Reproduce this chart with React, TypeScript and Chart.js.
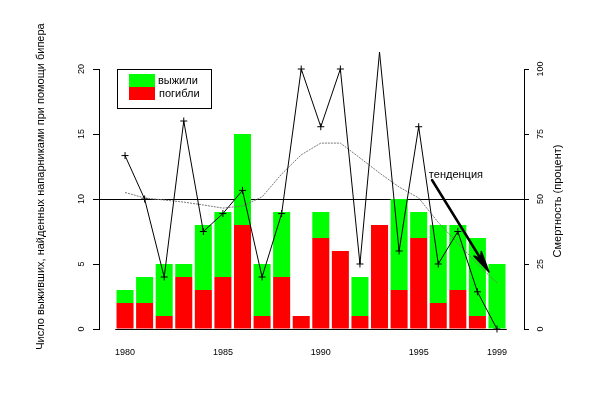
import React, { useEffect, useRef } from "react";
import { Chart, registerables } from "chart.js";

Chart.register(...registerables);

const years = [1980, 1981, 1982, 1983, 1984, 1985, 1986, 1987, 1988, 1989, 1990, 1991, 1992, 1993, 1994, 1995, 1996, 1997, 1998, 1999];
const died = [2, 2, 1, 4, 3, 4, 8, 1, 4, 1, 7, 6, 1, 8, 3, 7, 2, 3, 1, 0];
const survived = [1, 2, 4, 1, 5, 5, 7, 4, 5, 0, 2, 0, 3, 0, 7, 2, 6, 5, 6, 5];
const mortality = [66.7, 50, 20, 80, 37.5, 44.4, 53.3, 20, 44.4, 100, 77.8, 100, 25, 106.5, 30, 77.8, 25, 37.5, 14.3, 0];
const trend = [52.5, 50.4, 49.6, 48.8, 47.7, 46.5, 47.3, 50.8, 59.6, 67, 71.5, 71.5, 65.8, 60, 54.6, 50.4, 41, 33, 25, 17.7];
const xTickLabels = [1980, 1985, 1990, 1995, 1999];
const leftTicks = [0, 5, 10, 15, 20];
const rightTicks = [0, 25, 50, 75, 100];
const refLevel = 50;
const xMin = 1978.67;
const xMax = 2000.38;
const baseFrom = 1979.5;
const baseTo = 1999.5;
const arrowFrom = { x: 1995.68, y: 57.3 };
const arrowTo = { x: 1998.59, y: 21.9 };
const annotationText = "тенденция";
const annotationPos = { x: 1995.52, y: 59.2 };
const leftTitle = "Число выживших, найденных напарниками при помощи бипера";
const rightTitle = "Смертность (процент)";

const FONT = "'Liberation Sans', Arial, sans-serif";

const linesPlugin = {
  id: "reflines",
  beforeDatasetsDraw(chart: any) {
    const ctx = chart.ctx;
    const xs = chart.scales.x;
    const y2 = chart.scales.y2;
    const area = chart.chartArea;
    ctx.save();
    ctx.strokeStyle = "#000";
    ctx.lineWidth = 1;
    const yr = Math.round(y2.getPixelForValue(refLevel)) + 0.5;
    ctx.beginPath();
    ctx.moveTo(area.left, yr);
    ctx.lineTo(area.right, yr);
    ctx.stroke();
    const yb = Math.round(y2.getPixelForValue(0)) + 0.5;
    ctx.beginPath();
    ctx.moveTo(xs.getPixelForValue(baseFrom), yb);
    ctx.lineTo(xs.getPixelForValue(baseTo), yb);
    ctx.stroke();
    ctx.restore();
  },
};

const overlayPlugin = {
  id: "overlay",
  afterDraw(chart: any) {
    const ctx = chart.ctx;
    const area = chart.chartArea;
    const xs = chart.scales.x;
    const y2 = chart.scales.y2;
    ctx.save();
    ctx.fillStyle = "#000";
    ctx.font = `11px ${FONT}`;
    ctx.textAlign = "center";
    ctx.textBaseline = "middle";
    ctx.save();
    ctx.translate(area.left - 58.5, (area.top + area.bottom) / 2 - 12.5);
    ctx.rotate(-Math.PI / 2);
    ctx.fillText(leftTitle, 0, 0);
    ctx.restore();
    ctx.save();
    ctx.translate(area.right + 34, (area.top + area.bottom) / 2 + 2);
    ctx.rotate(-Math.PI / 2);
    ctx.fillText(rightTitle, 0, 0);
    ctx.restore();

    // legend
    const bx = area.left + 18;
    const by = area.top;
    const bw = 94;
    const bh = 39;
    ctx.fillStyle = "#fff";
    ctx.fillRect(bx, by, bw, bh);
    ctx.strokeStyle = "#000";
    ctx.lineWidth = 1;
    ctx.strokeRect(bx + 0.5, by + 0.5, bw, bh);
    const items = [chart.data.datasets[1], chart.data.datasets[0]];
    ctx.font = `11px ${FONT}`;
    ctx.textAlign = "left";
    items.forEach((ds: any, i: number) => {
      const sy = by + 5 + i * 13;
      ctx.fillStyle = ds.backgroundColor;
      ctx.fillRect(bx + 12, sy, 26, 13);
      ctx.fillStyle = "#000";
      ctx.fillText(ds.label, bx + 41 + i, sy + 7);
    });

    // annotation
    ctx.font = `11px ${FONT}`;
    ctx.textAlign = "left";
    ctx.textBaseline = "middle";
    ctx.fillText(annotationText, xs.getPixelForValue(annotationPos.x), y2.getPixelForValue(annotationPos.y));
    const x1 = xs.getPixelForValue(arrowFrom.x);
    const yA = y2.getPixelForValue(arrowFrom.y);
    const x2 = xs.getPixelForValue(arrowTo.x);
    const yB = y2.getPixelForValue(arrowTo.y);
    const ang = Math.atan2(yB - yA, x2 - x1);
    const hl = 22;
    const ha = 0.2;
    ctx.strokeStyle = "#000";
    ctx.fillStyle = "#000";
    ctx.lineWidth = 2.5;
    ctx.lineCap = "round";
    ctx.beginPath();
    ctx.moveTo(x1, yA);
    ctx.lineTo(x2 - (hl - 4) * Math.cos(ang), yB - (hl - 4) * Math.sin(ang));
    ctx.stroke();
    ctx.lineWidth = 1.5;
    ctx.lineJoin = "round";
    ctx.beginPath();
    ctx.moveTo(x2 - hl * Math.cos(ang - ha), yB - hl * Math.sin(ang - ha));
    ctx.lineTo(x2, yB);
    ctx.lineTo(x2 - hl * Math.cos(ang + ha), yB - hl * Math.sin(ang + ha));
    ctx.lineTo(x2 - (hl - 6) * Math.cos(ang), yB - (hl - 6) * Math.sin(ang));
    ctx.closePath();
    ctx.fill();
    ctx.stroke();
    ctx.restore();
  },
};

export default function App() {
  const ref = useRef<HTMLCanvasElement>(null);
  useEffect(() => {
    if (!ref.current) return;
    const chart = new Chart(ref.current, {
      type: "bar",
      data: {
        datasets: [
          {
            type: "bar",
            label: "погибли",
            data: years.map((x, i) => ({ x, y: died[i] })),
            backgroundColor: "#ff0000",
            borderWidth: 0,
            yAxisID: "y",
            barPercentage: 0.87,
            categoryPercentage: 1,
            order: 10,
          },
          {
            type: "bar",
            label: "выжили",
            data: years.map((x, i) => ({ x, y: survived[i] })),
            backgroundColor: "#00ff00",
            borderWidth: 0,
            yAxisID: "y",
            barPercentage: 0.87,
            categoryPercentage: 1,
            order: 10,
          },
          {
            type: "line",
            label: "смертность",
            data: years.map((x, i) => ({ x, y: mortality[i] })),
            borderColor: "#000",
            backgroundColor: "#000",
            borderWidth: 1,
            pointStyle: "cross",
            pointRadius: (c: any) => (c.raw && c.raw.y > 100 ? 0 : 3.5),
            pointBorderWidth: 1,
            pointBorderColor: "#000",
            yAxisID: "y2",
            clip: false,
            tension: 0,
            order: 1,
          },
          {
            type: "line",
            label: "тренд",
            data: years.map((x, i) => ({ x, y: trend[i] })),
            borderColor: "#777",
            borderWidth: 1,
            borderDash: [2, 1],
            pointRadius: 0,
            yAxisID: "y2",
            tension: 0,
            order: 2,
          },
        ],
      },
      options: {
        responsive: false,
        animation: false,
        layout: { padding: { top: 69, left: 0, right: 0, bottom: 0 } },
        plugins: { legend: { display: false }, tooltip: { enabled: false } },
        scales: {
          x: {
            type: "linear",
            min: xMin,
            max: xMax,
            offset: false,
            stacked: true,
            grid: { display: false, drawTicks: false },
            border: { display: false },
            ticks: {
              font: { family: FONT, size: 9 },
              color: "#000",
              padding: 18,
              maxRotation: 0,
              callback: (v: any) => String(v),
            },
            afterBuildTicks: (s: any) => {
              s.ticks = xTickLabels.map((v) => ({ value: v }));
            },
            afterFit: (s: any) => {
              s.height = 66;
            },
          },
          y: {
            type: "linear",
            position: "left",
            min: 0,
            max: 20,
            stacked: true,
            grid: { drawOnChartArea: false, drawTicks: true, tickLength: 6, color: "#000" },
            border: { display: true, color: "#000", width: 1 },
            ticks: {
              font: { family: FONT, size: 9 },
              color: "#000",
              minRotation: 90,
              maxRotation: 90,
              crossAlign: "center",
              padding: 6.5,
            },
            afterBuildTicks: (s: any) => {
              s.ticks = leftTicks.map((v) => ({ value: v }));
            },
            afterFit: (s: any) => {
              s.width = 99;
            },
          },
          y2: {
            type: "linear",
            position: "right",
            min: 0,
            max: 100,
            grid: { drawOnChartArea: false, drawTicks: true, tickLength: 5, color: "#000" },
            border: { display: true, color: "#000", width: 1 },
            ticks: {
              font: { family: FONT, size: 9 },
              color: "#000",
              minRotation: 90,
              maxRotation: 90,
              crossAlign: "center",
              padding: 4,
            },
            afterBuildTicks: (s: any) => {
              s.ticks = rightTicks.map((v) => ({ value: v }));
            },
            afterFit: (s: any) => {
              s.width = 76;
            },
          },
        },
      },
      plugins: [linesPlugin, overlayPlugin],
    } as any);
    return () => chart.destroy();
  }, []);
  return (
    <div style={{ position: "absolute", left: 0, top: 0, width: 600, height: 395, background: "#fff" }}>
      <canvas ref={ref} width={600} height={395} style={{ display: "block" }} />
    </div>
  );
}
